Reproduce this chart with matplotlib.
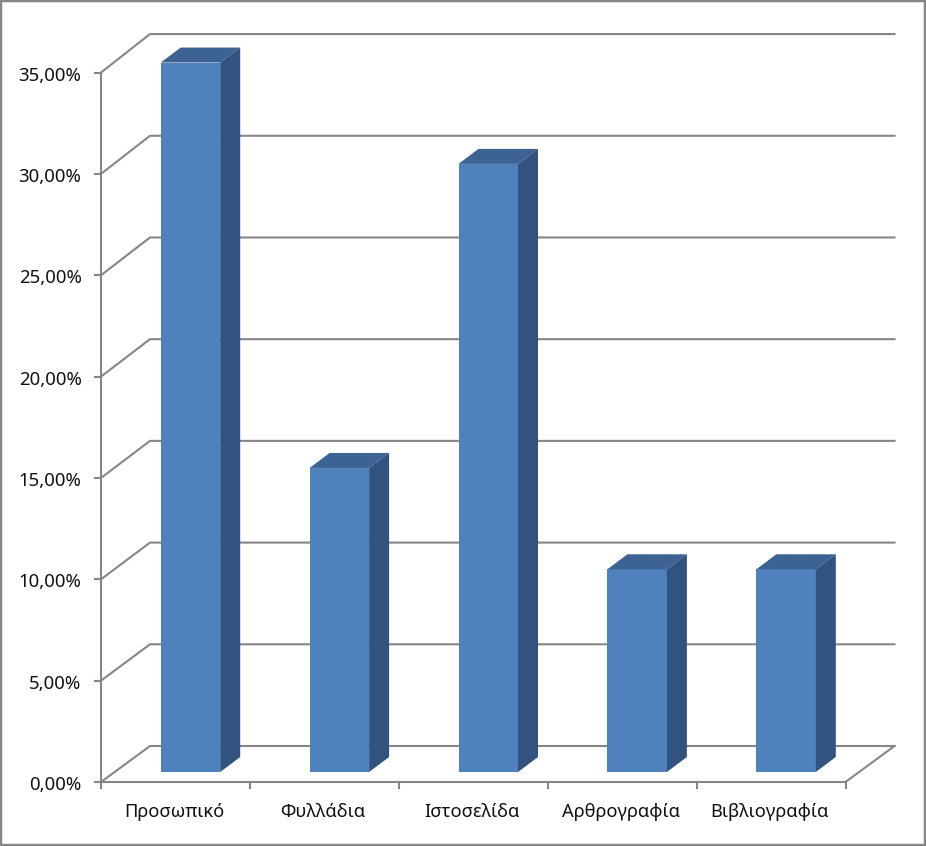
import matplotlib
matplotlib.use("Agg")
import matplotlib.pyplot as plt
from matplotlib.patches import Polygon

plt.rcParams['font.family'] = ['Noto Sans', 'DejaVu Sans']

categories = ['Προσωπικό', 'Φυλλάδια', 'Ιστοσελίδα', 'Αρθρογραφία', 'Βιβλιογραφία']
values = [35, 15, 30, 10, 10]
y_ticks = [0, 5, 10, 15, 20, 25, 30, 35]
y_tick_labels = ['0,00%', '5,00%', '10,00%', '15,00%', '20,00%', '25,00%', '30,00%', '35,00%']

W, H = 926, 846
X0, Y0 = 101.0, 782.0      # pixel of the plot origin
CAT = 148.9                # pixels per category
UNIT = 20.27               # pixels per percent
BACK_SCALE = 1.0035        # back wall is drawn very slightly taller
def px_x(p): return p / CAT
def px_y(p): return p / UNIT

GRID = '#868686'
FRONT, TOP, SIDE = '#4F81BD', '#3D6394', '#325380'
TEXT = '#111111'

fig = plt.figure(figsize=(W / 100, H / 100), dpi=100, facecolor='white')
ax = fig.add_axes([0, 0, 1, 1])
ax.set_xlim(-X0 / CAT, (W - X0) / CAT)
ax.set_ylim(-(H - Y0) / UNIT, Y0 / UNIT)
ax.set_xticks([]); ax.set_yticks([])
for s in ax.spines.values():
    s.set_linewidth(3.2); s.set_color(GRID)

lw = 1.5
dx, dy = px_x(49), px_y(36)      # depth of the plot box
n = len(categories)
ymax = y_ticks[-1]

# Walls and gridlines
for t, lab in zip(y_ticks, y_tick_labels):
    back = t * BACK_SCALE + dy
    ax.plot([0, dx, n + dx], [t, back, back], color=GRID, lw=lw, zorder=1, solid_joinstyle='miter')
    ax.plot([-px_x(6), 0], [t, t], color=GRID, lw=lw, zorder=1)
    ax.text(-px_x(19.5), t - px_y(3), lab, ha='right', va='center', fontsize=13.4, color=TEXT)

# Axis lines, floor and category ticks
ax.plot([0, 0], [0, ymax], color=GRID, lw=lw, zorder=1)
ax.plot([0, n, n + dx], [0, 0, dy], color=GRID, lw=lw, zorder=1, solid_joinstyle='miter')
for i in range(n + 1):
    ax.plot([i, i], [0, -px_y(6)], color=GRID, lw=lw, zorder=1)

# Bars
bw = px_x(59.5)
shift_x, base = px_x(15), px_y(10)
bdx, bdy = px_x(20), px_y(15)
for i, (c, v) in enumerate(zip(categories, values)):
    xc = i + 0.5 + shift_x
    l, r = xc - bw / 2, xc + bw / 2
    b, t = base, base + v
    ax.bar(xc, v, width=bw, bottom=b, color=FRONT, zorder=3, linewidth=0)
    ax.add_patch(Polygon([(l, t), (l + bdx, t + bdy), (r + bdx, t + bdy), (r, t)], fc=TOP, ec='none', zorder=3))
    ax.add_patch(Polygon([(r, b), (r + bdx, b + bdy), (r + bdx, t + bdy), (r, t)], fc=SIDE, ec='none', zorder=3))
    ax.text(i + 0.5 - px_x(1.5), -px_y(29.5), c, ha='center', va='center', fontsize=13.2, color=TEXT)

fig.savefig('out.png', dpi=100)
